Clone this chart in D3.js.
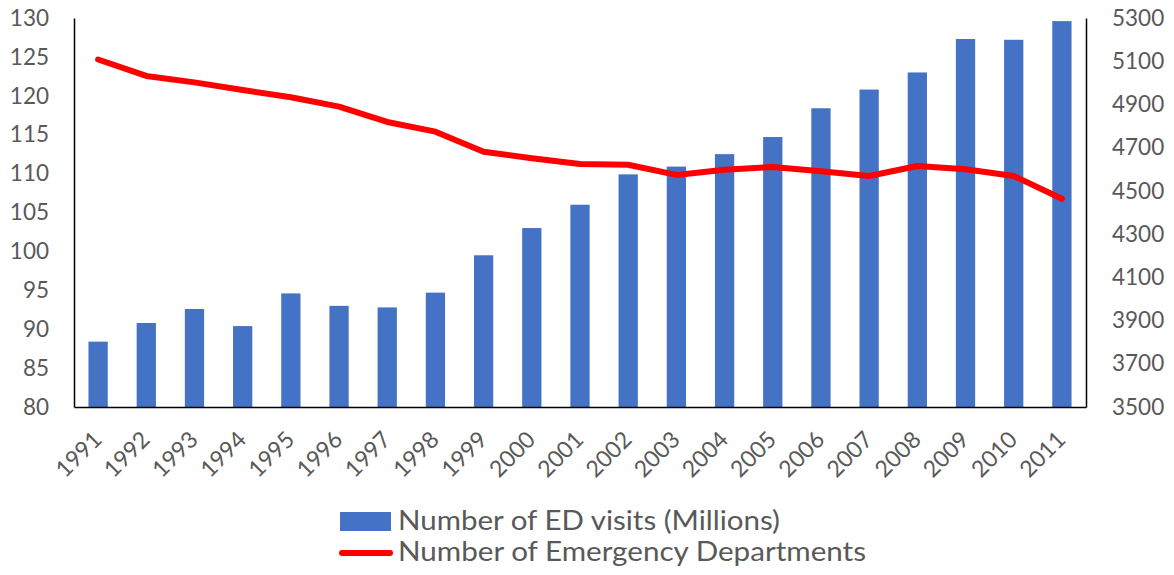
<!DOCTYPE html>
<html>
<head>
<meta charset="utf-8">
<script src="https://cdn.jsdelivr.net/npm/d3@7"></script>
<style>
  html, body { margin: 0; padding: 0; background: #fff; }
  svg text { font-family: Lato, "Open Sans", sans-serif; fill: #595959; }
</style>
</head>
<body>
<svg id="chart" width="1174" height="575"></svg>
<script>
// Emergency department visits vs. number of emergency departments, 1991-2011
const years = ["1991","1992","1993","1994","1995","1996","1997","1998","1999","2000",
               "2001","2002","2003","2004","2005","2006","2007","2008","2009","2010","2011"];
const visits = [88.4, 90.8, 92.6, 90.4, 94.6, 93.0, 92.8, 94.7, 99.5, 103.0,
                106.0, 109.9, 110.9, 112.5, 114.7, 118.4, 120.8, 123.0, 127.3, 127.2, 129.6];
const departments = [5108, 5032, 5002, 4967, 4933, 4890, 4819, 4774, 4681, 4651,
                     4624, 4621, 4574, 4598, 4611, 4591, 4569, 4615, 4600, 4569, 4464];
const leftTicks = [80, 85, 90, 95, 100, 105, 110, 115, 120, 125, 130];
const rightTicks = [3500, 3700, 3900, 4100, 4300, 4500, 4700, 4900, 5100, 5300];
const legendLabels = ["Number of ED visits (Millions)", "Number of Emergency Departments"];
const legendWidths = [382, 468];

const svg = d3.select("#chart");
const plot = { left: 74, right: 1086, top: 18, bottom: 407 };

const x = d3.scaleBand().domain(years).range([plot.left, plot.right]).paddingInner(0.6).paddingOuter(0.3);
const yL = d3.scaleLinear().domain([80, 130]).range([plot.bottom, plot.top]);
const yR = d3.scaleLinear().domain([3500, 5300]).range([plot.bottom, plot.top]);

// bars
svg.append("g").selectAll("rect").data(years).join("rect")
  .attr("x", d => x(d))
  .attr("width", x.bandwidth())
  .attr("y", (d, i) => yL(visits[i]))
  .attr("height", (d, i) => plot.bottom - yL(visits[i]))
  .attr("fill", "#4472C4");

// frame lines: left, bottom, right
const axisColor = "#000";
const gL = svg.append("g").attr("transform", `translate(${plot.left},0)`)
  .call(d3.axisLeft(yL).tickValues(leftTicks).tickSize(0).tickPadding(25));
const gR = svg.append("g").attr("transform", `translate(${plot.right},0)`)
  .call(d3.axisRight(yR).tickValues(rightTicks).tickFormat(d3.format("d")).tickSize(0).tickPadding(26));
const gB = svg.append("g").attr("transform", `translate(0,${plot.bottom})`)
  .call(d3.axisBottom(x).tickSize(0).tickPadding(0));
[gL, gR, gB].forEach(g => {
  g.select(".domain").attr("stroke", axisColor).attr("stroke-width", 1.5);
  g.selectAll("text").attr("font-family", null).style("font-size", "22.5px").attr("fill", "#595959");
});
gB.selectAll("text")
  .style("font-size", "23px")
  .attr("text-anchor", "end")
  .attr("dy", null)
  .attr("y", 0)
  .attr("transform", "translate(5,34) rotate(-45)");

// department line
const line = d3.line()
  .x((d, i) => x(years[i]) + x.bandwidth() / 2)
  .y(d => yR(d));
svg.append("path").datum(departments)
  .attr("d", line)
  .attr("fill", "none")
  .attr("stroke", "#FF0000")
  .attr("stroke-width", 6)
  .attr("stroke-linejoin", "round")
  .attr("stroke-linecap", "round");

// legend
const lg = svg.append("g");
lg.append("rect").attr("x", 340).attr("y", 512).attr("width", 51).attr("height", 19).attr("fill", "#4472C4");
lg.append("line").attr("x1", 342).attr("x2", 390).attr("y1", 553).attr("y2", 553)
  .attr("stroke", "#FF0000").attr("stroke-width", 6).attr("stroke-linecap", "round");
lg.selectAll("text").data(legendLabels).join("text")
  .attr("x", 398)
  .attr("y", (d, i) => 530 + i * 31)
  .attr("textLength", (d, i) => legendWidths[i])
  .attr("lengthAdjust", "spacingAndGlyphs")
  .style("font-size", "27px")
  .text(d => d);
</script>
</body>
</html>
